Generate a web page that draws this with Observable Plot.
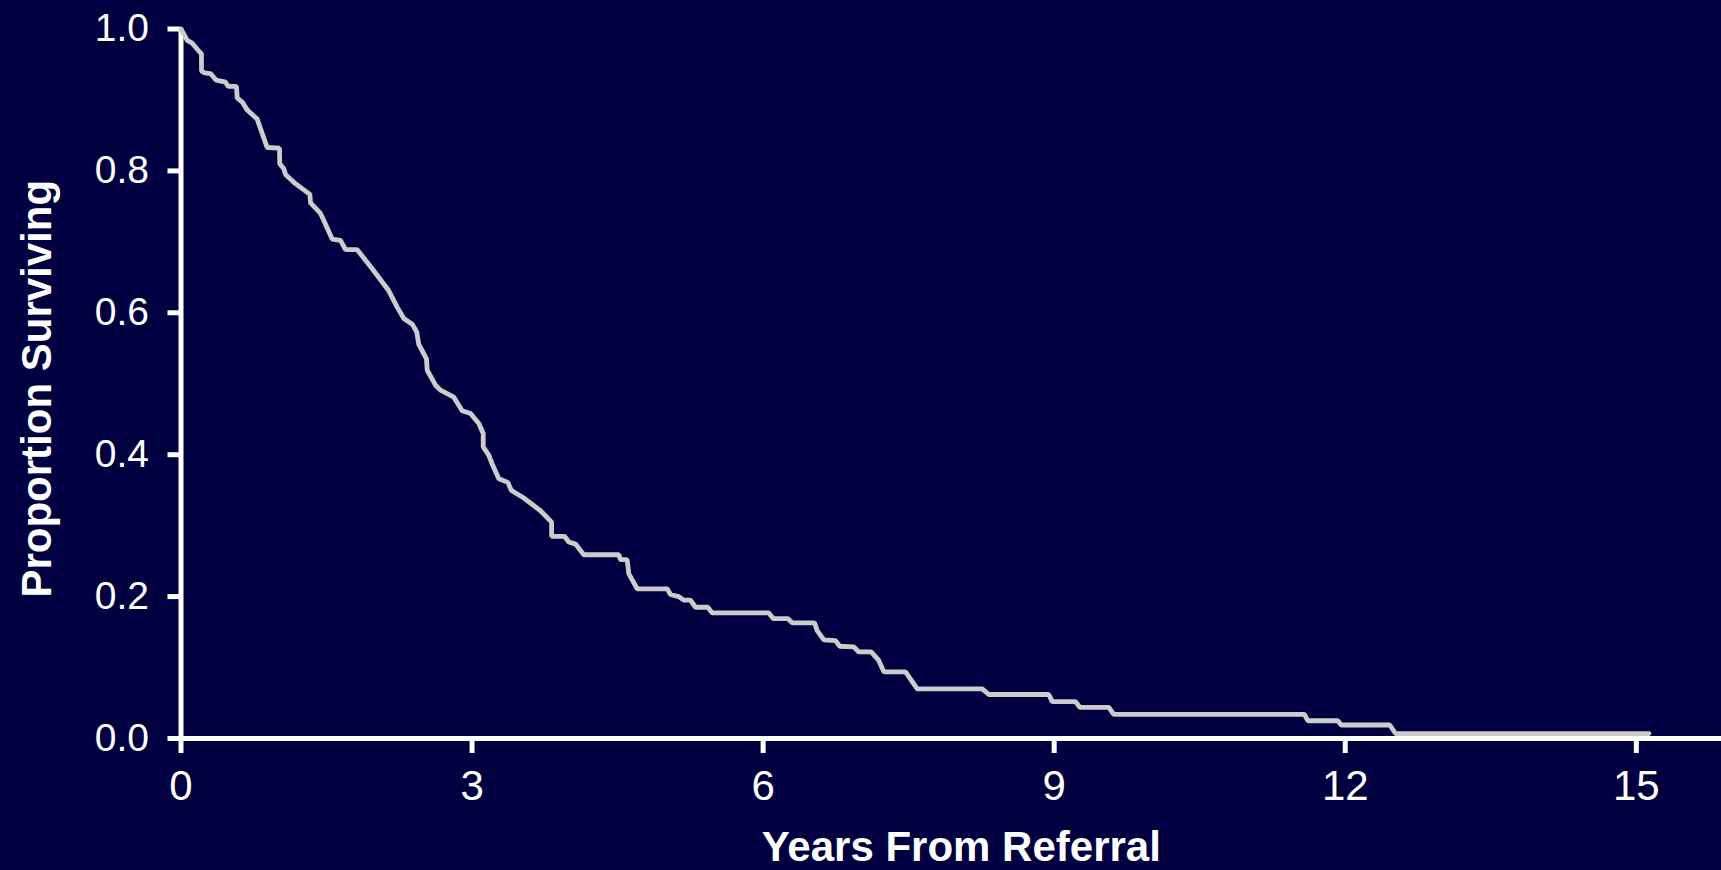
<!DOCTYPE html>
<html>
<head>
<meta charset="utf-8">
<script src="https://cdn.jsdelivr.net/npm/d3@7"></script>
<script src="https://cdn.jsdelivr.net/npm/@observablehq/plot@0.6"></script>
<style>
  html, body { margin: 0; padding: 0; background: #000040; }
  #chart svg { display: block; }
</style>
</head>
<body>
<div id="chart"></div>
<script>
// Kaplan–Meier estimate: proportion of patients surviving by years since referral
const years = [
  0, 0.064, 0.115, 0.177, 0.211, 0.211, 0.245, 0.304, 0.363, 0.459,
  0.486, 0.572, 0.579, 0.631, 0.682, 0.785, 0.888, 1.015, 1.018, 1.06,
  1.077, 1.18, 1.328, 1.335, 1.438, 1.472, 1.558, 1.644, 1.696, 1.816,
  1.971, 2.142, 2.228, 2.297, 2.383, 2.43, 2.45, 2.53, 2.538, 2.623,
  2.675, 2.812, 2.898, 2.984, 3.07, 3.115, 3.115, 3.173, 3.207, 3.276,
  3.369, 3.403, 3.533, 3.705, 3.82, 3.82, 3.953, 3.997, 4.066, 4.152,
  4.513, 4.53, 4.599, 4.616, 4.702, 5.011, 5.045, 5.131, 5.182, 5.251,
  5.303, 5.43, 5.475, 6.059, 6.104, 6.254, 6.3, 6.53, 6.557, 6.626,
  6.746, 6.79, 6.935, 6.986, 7.114, 7.192, 7.244, 7.468, 7.588, 8.258,
  8.326, 8.944, 8.98, 9.22, 9.264, 9.563, 9.614, 11.58, 11.614, 11.923,
  11.958, 12.459, 12.518, 15.13
];
const surviving = [
  1.0, 0.984, 0.980, 0.970, 0.965, 0.941, 0.938, 0.937, 0.928, 0.925,
  0.919, 0.919, 0.903, 0.897, 0.886, 0.873, 0.833, 0.832, 0.810, 0.803,
  0.795, 0.782, 0.767, 0.755, 0.740, 0.730, 0.704, 0.702, 0.689, 0.689,
  0.662, 0.631, 0.608, 0.592, 0.584, 0.573, 0.556, 0.535, 0.519, 0.498,
  0.491, 0.481, 0.462, 0.458, 0.444, 0.430, 0.411, 0.399, 0.387, 0.366,
  0.361, 0.350, 0.339, 0.321, 0.305, 0.285, 0.285, 0.277, 0.274, 0.259,
  0.259, 0.252, 0.252, 0.232, 0.211, 0.211, 0.203, 0.200, 0.195, 0.195,
  0.185, 0.185, 0.177, 0.177, 0.169, 0.169, 0.163, 0.163, 0.152, 0.139,
  0.138, 0.130, 0.129, 0.122, 0.122, 0.110, 0.094, 0.094, 0.070, 0.070,
  0.062, 0.062, 0.052, 0.052, 0.044, 0.044, 0.034, 0.034, 0.025, 0.025,
  0.019, 0.019, 0.007, 0.007
];

const xTickValues = [0, 3, 6, 9, 12, 15];
const yTickValues = [0, 0.2, 0.4, 0.6, 0.8, 1.0];
const yTickLabels = ["0.0", "0.2", "0.4", "0.6", "0.8", "1.0"];
const xTitle = "Years From Referral";
const yTitle = "Proportion Surviving";

const curve = years.map((t, i) => ({years: t, surviving: surviving[i]}));

const bg = "#000040";
const ink = "white";
const axisWidth = 5;

const chart = Plot.plot({
  width: 1721,
  height: 870,
  marginLeft: 180.5,
  marginRight: 0,
  marginTop: 28.5,
  marginBottom: 132,
  style: {
    background: bg,
    color: ink,
    fontFamily: "'Liberation Sans', Arial, Helvetica, sans-serif"
  },
  x: {domain: [0, 15.878]},
  y: {domain: [0, 1]},
  marks: [
    Plot.axisY({
      ticks: yTickValues,
      tickFormat: (d) => yTickLabels[yTickValues.indexOf(d)],
      tickSize: 13,
      tickPadding: 19,
      fontSize: 39,
      stroke: ink,
      strokeWidth: axisWidth,
      label: null
    }),
    Plot.axisX({
      ticks: xTickValues,
      tickFormat: (d) => String(d),
      tickSize: 15,
      tickPadding: 17,
      fontSize: 42,
      stroke: ink,
      strokeWidth: axisWidth,
      label: null
    }),
    Plot.ruleY([0], {stroke: ink, strokeWidth: axisWidth}),
    Plot.ruleX([0], {y1: 0, y2: 1, stroke: ink, strokeWidth: axisWidth}),
    Plot.line(curve, {
      x: "years",
      y: "surviving",
      stroke: "#cccccc",
      strokeWidth: 4.8,
      strokeLinejoin: "miter"
    }),
    Plot.text([xTitle], {
      text: (d) => d,
      frameAnchor: "bottom",
      textAnchor: "middle",
      lineAnchor: "bottom",
      dx: 10,
      dy: 122,
      fontSize: 42,
      fontWeight: "bold",
      fill: ink
    }),
    Plot.text([yTitle], {
      text: (d) => d,
      frameAnchor: "left",
      textAnchor: "middle",
      lineAnchor: "bottom",
      rotate: -90,
      dx: -130.5,
      dy: 5,
      fontSize: 42,
      fontWeight: "bold",
      fill: ink
    })
  ]
});

document.getElementById("chart").appendChild(chart);
</script>
</body>
</html>
